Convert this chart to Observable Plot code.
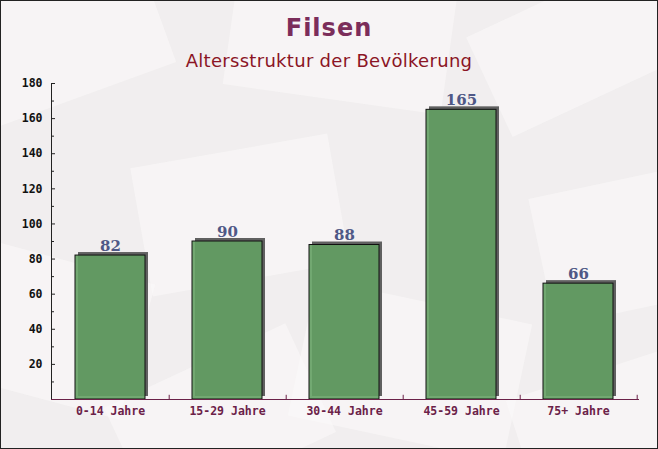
<!DOCTYPE html>
<html>
<head>
<meta charset="utf-8">
<script src="https://cdn.jsdelivr.net/npm/d3@7"></script>
<script src="https://cdn.jsdelivr.net/npm/@observablehq/plot@0.6"></script>
<style>
  html, body { margin: 0; padding: 0; background: #fff; }
  #wrap { position: relative; width: 658px; height: 449px; overflow: hidden; background: #f1eeef; }
  .env { position: absolute; background: #fbfafa; opacity: 0.55; }
  #title { position: absolute; left: 0; width: 658px; top: 14px; text-align: center;
           font: bold 24px "DejaVu Sans", sans-serif; letter-spacing: 1px; color: #7b2d5a; }
  #subtitle { position: absolute; left: 0; width: 658px; top: 50px; text-align: center;
           font: 18px "DejaVu Sans", sans-serif; letter-spacing: 0.3px; color: #8b1525; }
  #chart { position: absolute; left: 0; top: 0; }
  #border { position: absolute; left: 0; top: 0; width: 656px; height: 447px; border: 1px solid #222; pointer-events: none; }
</style>
</head>
<body>
<div id="wrap">
  <div class="env" style="left:-40px;top:-30px;width:200px;height:130px;transform:rotate(-20deg)"></div>
  <div class="env" style="left:230px;top:-20px;width:220px;height:120px;transform:rotate(8deg)"></div>
  <div class="env" style="left:480px;top:-10px;width:200px;height:110px;transform:rotate(-25deg)"></div>
  <div class="env" style="left:140px;top:150px;width:200px;height:130px;transform:rotate(-10deg)"></div>
  <div class="env" style="left:-30px;top:260px;width:170px;height:140px;transform:rotate(15deg)"></div>
  <div class="env" style="left:540px;top:180px;width:170px;height:130px;transform:rotate(-12deg)"></div>
  <div class="env" style="left:300px;top:300px;width:220px;height:140px;transform:rotate(12deg)"></div>
  <div class="env" style="left:520px;top:370px;width:180px;height:120px;transform:rotate(-18deg)"></div>
  <div class="env" style="left:120px;top:360px;width:200px;height:120px;transform:rotate(-25deg)"></div>
  <div id="chart"></div>
  <div id="title">Filsen</div>
  <div id="subtitle">Altersstruktur der Bevölkerung</div>
  <div id="border"></div>
</div>
<script>
const categories = ["0-14 Jahre", "15-29 Jahre", "30-44 Jahre", "45-59 Jahre", "75+ Jahre"];
const values = [82, 90, 88, 165, 66];
const yTickLabels = [20, 40, 60, 80, 100, 120, 140, 160, 180];
const yMinorTicks = [10, 30, 50, 70, 90, 110, 130, 150, 170];

const data = categories.map((c, i) => ({category: c, value: values[i]}));

const W = 658, H = 449, ML = 51, MR = 20;
const frameW = W - ML - MR;
const step = frameW / categories.length;

const chart = Plot.plot({
  width: W,
  height: H,
  marginLeft: ML,
  marginRight: MR,
  marginTop: 83,
  marginBottom: 50,
  style: {background: "transparent", overflow: "visible"},
  x: {domain: categories, paddingInner: 0.4, paddingOuter: 0.2, label: null},
  y: {domain: [0, 180], label: null},
  marks: [
    Plot.barY(data, {x: "category", y: "value", fill: "#606060", dx: 3, dy: -3}),
    Plot.barY(data, {x: "category", y: "value", fill: "#63a063", fillOpacity: 0.9, stroke: "#111", strokeWidth: 1}),
    Plot.text(data, {x: "category", y: "value", text: d => String(d.value), lineAnchor: "bottom", dy: -5,
      fill: "#4f5886", fontFamily: "DejaVu Serif", fontWeight: "bold", fontSize: 15}),
    Plot.frame({anchor: "left", stroke: "#222"}),
    Plot.frame({anchor: "bottom", stroke: "#6b2148"}),
    Plot.tickY(yTickLabels, {y: d => d, insetRight: frameW - 4, stroke: "#222"}),
    Plot.tickY(yMinorTicks, {y: d => d, insetRight: frameW - 3, stroke: "#222"}),
    Plot.ruleX(categories, {x: d => d, dx: step / 2, y1: 0, y2: 2.4, stroke: "#6b2148"}),
    Plot.axisY(yTickLabels, {tickSize: 0, tickPadding: 9, fontFamily: "DejaVu Sans Mono", fontWeight: "bold",
      fontSize: 11.5, fill: "#111", label: null}),
    Plot.axisX({tickSize: 0, tickPadding: 7, fontFamily: "DejaVu Sans Mono", fontWeight: "bold",
      fontSize: 11.5, fill: "#6b2148", label: null})
  ]
});
document.getElementById("chart").appendChild(chart);
</script>
</body>
</html>
